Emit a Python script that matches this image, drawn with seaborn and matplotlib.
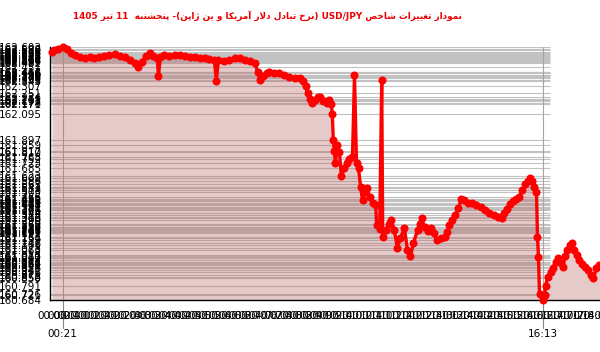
import matplotlib
matplotlib.use("Agg")
import matplotlib.pyplot as plt
import matplotlib.transforms as mtrans
from matplotlib import font_manager as fm
import pandas as pd
import seaborn as sns

TITLE = "نمودار تغییرات شاخص USD/JPY (نرخ تبادل دلار آمریکا و ین ژاپن)- پنجشنبه  11 تیر 1405"

times = [
    "00:00", "00:03", "00:11", "00:21", "00:29", "00:37", "00:45", "00:55", "01:05", "01:15",
    "01:24", "01:34", "01:44", "01:54", "02:04", "02:14", "02:24", "02:34", "02:44", "02:50",
    "02:58", "03:06", "03:14", "03:21", "03:29", "03:31", "03:35", "03:43", "03:53", "04:03",
    "04:13", "04:23", "04:33", "04:43", "04:53", "05:03", "05:12", "05:22", "05:26", "05:30",
    "05:42", "05:52", "06:02", "06:12", "06:22", "06:32", "06:42", "06:48", "06:52", "06:58",
    "07:06", "07:11", "07:21", "07:31", "07:41", "07:51", "08:01", "08:11", "08:17", "08:23",
    "08:27", "08:31", "08:35", "08:41", "08:47", "08:51", "08:57", "09:05", "09:10", "09:14",
    "09:16", "09:18", "09:20", "09:22", "09:26", "09:30", "09:34", "09:40", "09:46", "09:50",
    "09:56", "10:00", "10:04", "10:08", "10:12", "10:16", "10:20", "10:24", "10:30", "10:36",
    "10:42", "10:44", "10:50", "10:54", "10:56", "11:02", "11:08", "11:13", "11:19", "11:25",
    "11:31", "11:39", "11:45", "11:51", "11:57", "12:05", "12:09", "12:13", "12:19", "12:25",
    "12:31", "12:37", "12:43", "12:51", "12:59", "13:04", "13:08", "13:14", "13:20", "13:26",
    "13:32", "13:38", "13:46", "13:54", "14:02", "14:10", "14:18", "14:26", "14:36", "14:44",
    "14:52", "14:57", "15:03", "15:09", "15:15", "15:21", "15:27", "15:33", "15:39", "15:45",
    "15:49", "15:53", "15:57", "16:01", "16:03", "16:05", "16:07", "16:13", "16:17", "16:19",
    "16:23", "16:29", "16:33", "16:39", "16:43", "16:49", "16:53", "16:58", "17:02", "17:08",
    "17:12", "17:16", "17:22", "17:26", "17:32", "17:38", "17:44", "17:50", "17:54", "18:00",
    "18:06",
]

values = [
    162.565, 162.580, 162.588, 162.603, 162.588, 162.557, 162.542, 162.527, 162.520, 162.527,
    162.520, 162.527, 162.535, 162.542, 162.550, 162.535, 162.527, 162.504, 162.482, 162.451,
    162.489, 162.535, 162.557, 162.535, 162.520, 162.380, 162.527, 162.542, 162.535, 162.542,
    162.542, 162.535, 162.527, 162.527, 162.520, 162.520, 162.512, 162.504, 162.345, 162.504,
    162.497, 162.504, 162.520, 162.520, 162.504, 162.497, 162.482, 162.416, 162.353, 162.383,
    162.406, 162.413, 162.406, 162.406, 162.391, 162.375, 162.368, 162.368, 162.345, 162.307,
    162.251, 162.211, 162.178, 162.201, 162.224, 162.224, 162.193, 162.178, 162.201, 162.171,
    162.095, 161.897, 161.817, 161.723, 161.859, 161.810, 161.623, 161.685, 161.723, 161.752,
    161.768, 162.390, 161.723, 161.685, 161.541, 161.442, 161.503, 161.533, 161.465, 161.419,
    161.404, 161.253, 161.222, 162.353, 161.161, 161.215, 161.260, 161.290, 161.215, 161.078,
    161.154, 161.230, 161.063, 161.017, 161.116, 161.215, 161.260, 161.306, 161.237, 161.207,
    161.230, 161.192, 161.139, 161.154, 161.161, 161.199, 161.253, 161.290, 161.328, 161.381,
    161.451, 161.442, 161.419, 161.419, 161.404, 161.387, 161.366, 161.344, 161.328, 161.313,
    161.306, 161.344, 161.374, 161.412, 161.435, 161.450, 161.465, 161.518, 161.567, 161.586,
    161.609, 161.586, 161.541, 161.503, 161.161, 161.010, 160.726, 160.684, 160.721, 160.791,
    160.858, 160.896, 160.926, 160.972, 161.002, 160.964, 160.934, 161.017, 161.063, 161.101,
    161.116, 161.063, 161.025, 160.987, 160.957, 160.934, 160.911, 160.871, 160.850, 160.926,
    160.949,
]

mark_times = ["00:21", "16:13"]          # times of the day's max and min
tick_labels = ["%02d:%02d" % (h, m) for h in range(0, 19) for m in (0, 20, 40)][:55]

# ---------- Persian shaping / bidi (no external libs available) ----------
FORMS = {
    'ا': ('\uFE8D', '\uFE8E', None, None),
    'آ': ('\uFE81', '\uFE82', None, None),
    'ب': ('\uFE8F', '\uFE90', '\uFE91', '\uFE92'),
    'پ': ('\uFB56', '\uFB57', '\uFB58', '\uFB59'),
    'ت': ('\uFE95', '\uFE96', '\uFE97', '\uFE98'),
    'ج': ('\uFE9D', '\uFE9E', '\uFE9F', '\uFEA0'),
    'خ': ('\uFEA5', '\uFEA6', '\uFEA7', '\uFEA8'),
    'د': ('\uFEA9', '\uFEAA', None, None),
    'ر': ('\uFEAD', '\uFEAE', None, None),
    'ژ': ('\uFB8A', '\uFB8B', None, None),
    'ش': ('\uFEB5', '\uFEB6', '\uFEB7', '\uFEB8'),
    'ص': ('\uFEB9', '\uFEBA', '\uFEBB', '\uFEBC'),
    'غ': ('\uFECD', '\uFECE', '\uFECF', '\uFED0'),
    'ک': ('\uFB8E', '\uFB8F', '\uFB90', '\uFB91'),
    'ل': ('\uFEDD', '\uFEDE', '\uFEDF', '\uFEE0'),
    'م': ('\uFEE1', '\uFEE2', '\uFEE3', '\uFEE4'),
    'ن': ('\uFEE5', '\uFEE6', '\uFEE7', '\uFEE8'),
    'و': ('\uFEED', '\uFEEE', None, None),
    'ه': ('\uFEE9', '\uFEEA', '\uFEEB', '\uFEEC'),
    'ی': ('\uFBFC', '\uFBFD', '\uFBFE', '\uFBFF'),
}
LIG = {('ل', 'ا'): ('\uFEFB', '\uFEFC'), ('ل', 'آ'): ('\uFEF5', '\uFEF6')}


def _dual(c):
    return c in FORMS and FORMS[c][2] is not None


def shape(text):
    out, i, n = [], 0, len(text)
    while i < n:
        c = text[i]
        if c not in FORMS:
            out.append(c)
            i += 1
            continue
        join_prev = i > 0 and _dual(text[i - 1])
        if i + 1 < n and (c, text[i + 1]) in LIG:
            iso, fin = LIG[(c, text[i + 1])]
            out.append(fin if join_prev else iso)
            i += 2
            continue
        join_next = _dual(c) and i + 1 < n and text[i + 1] in FORMS
        iso, fin, ini, med = FORMS[c]
        out.append(med if (join_prev and join_next) else fin if join_prev else ini if join_next else iso)
        i += 1
    return ''.join(out)


def visual(text):
    s = shape(text)
    def cls(ch):
        if ch.isascii() and ch.isalnum():
            return 'L'
        if '\u0600' <= ch <= '\u06FF' or '\uFB50' <= ch <= '\uFEFF':
            return 'R'
        return 'N'
    d = [cls(ch) for ch in s]
    res = []
    for i, di in enumerate(d):
        if di != 'N':
            res.append(di)
            continue
        p = next((d[j] for j in range(i - 1, -1, -1) if d[j] != 'N'), 'R')
        q = next((d[j] for j in range(i + 1, len(d)) if d[j] != 'N'), 'R')
        res.append('L' if p == q == 'L' else 'R')
    runs = []
    for ch, r in zip(s, res):
        if runs and runs[-1][0] == r:
            runs[-1][1].append(ch)
        else:
            runs.append([r, [ch]])
    mirror = {'(': ')', ')': '('}
    parts = []
    for r, chs in reversed(runs):
        if r == 'R':
            parts.append(''.join(mirror.get(c, c) for c in reversed(chs)))
        else:
            parts.append(''.join(chs))
    return ''.join(parts)


def to_min(t):
    h, m = t.split(':')
    return int(h) * 60 + int(m)


# ---------- plotting ----------
sns.set_style("white")
names = {f.name for f in fm.fontManager.ttflist}
tick_font = 'Liberation Sans Narrow' if 'Liberation Sans Narrow' in names else 'DejaVu Sans'
tick_size = 9.5 if tick_font == 'Liberation Sans Narrow' else 7.5
plt.rcParams['font.family'] = [tick_font, 'DejaVu Sans']

df = pd.DataFrame({'t': [to_min(t) for t in times], 'v': values})
vmin, vmax = min(values), max(values)

fig = plt.figure(figsize=(6, 3.52), dpi=100)
ax = fig.add_axes([50 / 600, 52 / 352, 550 / 600, 253 / 352])
ax.set_xlim(-4, 1087)
ax.set_ylim(vmin, vmax)

yt = sorted(set(values))
ax.hlines(yt, 0, 0.909, transform=ax.get_yaxis_transform(), colors='#c2c2c2',
          lw=0.8, zorder=1)
for t in mark_times:
    ax.axvline(to_min(t), color='#b0a0a0', lw=0.8, zorder=1.5)
ax.fill_between(df['t'], df['v'], vmin, color='#b45e5e', alpha=0.33, lw=0, zorder=2)

sns.lineplot(data=df, x='t', y='v', ax=ax, color='#ff0000', lw=2.4, marker='o',
             markersize=5.8, markeredgewidth=0, estimator=None, sort=False,
             zorder=4, clip_on=False)

ax.set_xlabel('')
ax.set_ylabel('')
ax.set_yticks(yt)
ax.set_yticklabels(["%.3f" % v for v in yt])
xt = [to_min(t) for t in tick_labels]
ax.set_xticks(xt)
ax.set_xticklabels(tick_labels)
ax.tick_params(axis='y', length=4, width=0.8, pad=2, labelsize=tick_size, colors='black')
ax.tick_params(axis='x', length=6, width=0.8, pad=2, labelsize=tick_size, colors='black')
for s in ('top', 'right'):
    ax.spines[s].set_visible(False)
for s in ('left', 'bottom'):
    ax.spines[s].set_color('black')
    ax.spines[s].set_linewidth(1.0)

btr = mtrans.blended_transform_factory(ax.transData, ax.transAxes)
for t in mark_times:
    ax.plot([to_min(t), to_min(t)], [0, -0.11], transform=btr, color='#888888',
            lw=0.8, clip_on=False, zorder=0)
    ax.text(to_min(t), -0.135, t, transform=btr, ha='center', va='center',
            fontsize=tick_size, color='black')

fig.text(267 / 600, 1 - 16 / 352, visual(TITLE), ha='center', va='center',
         color='#ee0000', fontsize=6.4, fontweight='bold', family=['DejaVu Sans'])

fig.savefig('out.png', dpi=100)
